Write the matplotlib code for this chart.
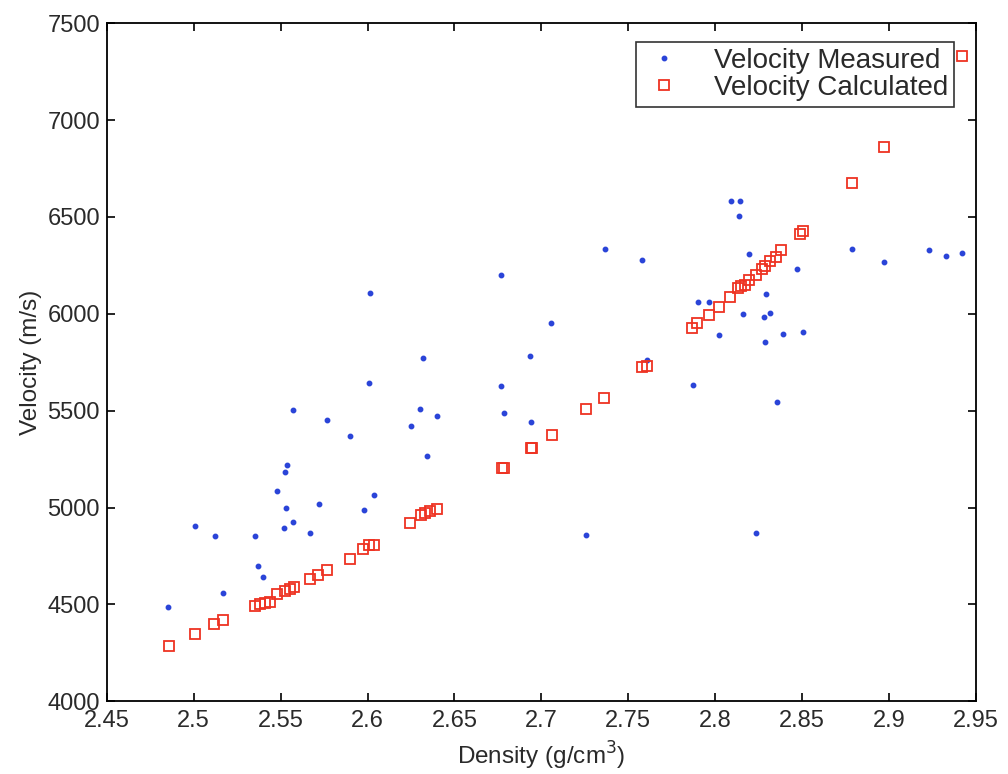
"""Density vs. velocity: measured points and calculated fit."""

import matplotlib

matplotlib.use("Agg")
import matplotlib.pyplot as plt

plt.rcParams["font.family"] = ["Liberation Sans", "DejaVu Sans"]

# measured velocity (blue dots)
measured_density = [
    2.485, 2.501, 2.512, 2.517, 2.535, 2.537, 2.5396, 2.5477, 2.5525, 2.5535,
    2.553, 2.552, 2.557, 2.557, 2.567, 2.572, 2.5766, 2.590, 2.598, 2.601,
    2.6016, 2.604, 2.6248, 2.630, 2.632, 2.6345, 2.6397, 2.677, 2.6768, 2.6784,
    2.6935, 2.6943, 2.7057, 2.726, 2.7365, 2.758, 2.761, 2.7875, 2.790, 2.7967,
    2.8025, 2.8092, 2.8146, 2.8136, 2.816, 2.8198, 2.8238, 2.828, 2.829, 2.8294,
    2.8318, 2.8356, 2.839, 2.8473, 2.8506, 2.8787, 2.897, 2.9233, 2.9328, 2.942,
]
measured_velocity = [
    4489, 4904, 4855, 4559, 4855, 4698, 4641, 5085, 5183, 5219,
    4996, 4893, 4927, 5504, 4869, 5017, 5452, 5370, 4989, 5645,
    6109, 5066, 5420, 5507, 5773, 5267, 5473, 5627, 6202, 5490,
    5781, 5444, 5953, 4857, 6334, 6277, 5761, 5632, 6059, 6059,
    5893, 6584, 6584, 6503, 6001, 6310, 4869, 5982, 5853, 6104,
    6005, 5547, 5898, 6231, 5905, 6334, 6267, 6327, 6299, 6316,
]

# calculated velocity (red open squares)
calc_density = [
    2.4855, 2.5005, 2.5117, 2.517, 2.535, 2.538, 2.541, 2.544, 2.5477, 2.5527,
    2.5555, 2.5575, 2.567, 2.5715, 2.5766, 2.590, 2.5975, 2.601, 2.604, 2.6245,
    2.631, 2.633, 2.636, 2.640, 2.6776, 2.6785, 2.6938, 2.6945, 2.7059, 2.7257,
    2.7363, 2.7582, 2.761, 2.7867, 2.7894, 2.7963, 2.802, 2.8087, 2.813, 2.815,
    2.817, 2.8198, 2.8233, 2.8271, 2.829, 2.8318, 2.8348, 2.838, 2.8487, 2.8506,
    2.8787, 2.897, 2.942,
]
calc_velocity = [
    4287, 4346, 4398, 4420, 4492, 4500, 4505, 4510, 4554, 4571,
    4580, 4588, 4633, 4650, 4677, 4736, 4787, 4804, 4809, 4921,
    4963, 4972, 4980, 4993, 5204, 5206, 5305, 5308, 5372, 5506,
    5567, 5725, 5730, 5927, 5950, 5996, 6036, 6087, 6133, 6141,
    6150, 6172, 6202, 6231, 6248, 6270, 6293, 6330, 6410, 6425,
    6676, 6860, 7330,
]

x_ticks = [2.45, 2.5, 2.55, 2.6, 2.65, 2.7, 2.75, 2.8, 2.85, 2.9, 2.95]
x_labels = ["2.45", "2.5", "2.55", "2.6", "2.65", "2.7", "2.75", "2.8", "2.85", "2.9", "2.95"]
y_ticks = [4000, 4500, 5000, 5500, 6000, 6500, 7000, 7500]

fig = plt.figure(figsize=(10.08, 7.74), dpi=100)
ax = fig.add_axes([0.106, 0.094, 0.862, 0.876])

ax.plot(measured_density, measured_velocity, linestyle="none", marker="o",
        markersize=3.2, color="#2a44d8", label="Velocity Measured")
ax.plot(calc_density, calc_velocity, linestyle="none", marker="s",
        markersize=6.8, markerfacecolor="none", markeredgecolor="#ee3322",
        markeredgewidth=1.3, label="Velocity Calculated")

ax.set_xlim(2.45, 2.95)
ax.set_ylim(4000, 7500)
ax.set_xticks(x_ticks)
ax.set_xticklabels(x_labels)
ax.set_yticks(y_ticks)
ax.tick_params(direction="in", top=True, right=True, length=6, width=1.2,
               labelsize=17, labelcolor="#2a2a2a")
ax.tick_params(axis="x", pad=6)
ax.tick_params(axis="y", pad=5)
for spine in ax.spines.values():
    spine.set_linewidth(1.3)

ax.set_xlabel("Density (g/cm$^3$)", fontsize=17.5, color="#2a2a2a", labelpad=6)
ax.set_ylabel("Velocity (m/s)", fontsize=17.5, color="#2a2a2a", labelpad=4)

leg = ax.legend(loc="upper right", bbox_to_anchor=(954 / 1008, 1 - 42 / 774),
                bbox_transform=fig.transFigure, fontsize=20, frameon=True,
                fancybox=False, edgecolor="black", borderpad=0.2,
                handlelength=1.6, handletextpad=1.0, labelspacing=0.05,
                borderaxespad=0)
leg.get_frame().set_linewidth(1.2)
for text in leg.get_texts():
    text.set_color("#2a2a2a")

fig.savefig("out.png", dpi=100)
plt.close(fig)
